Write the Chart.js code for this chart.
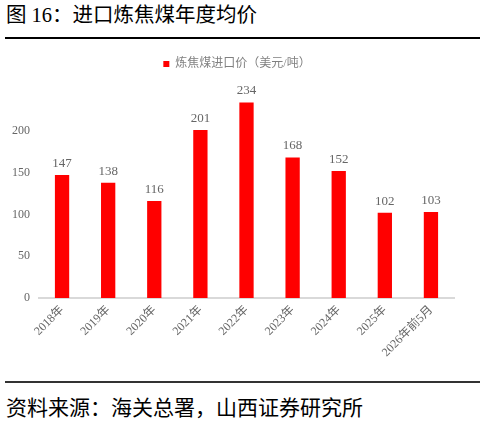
<!DOCTYPE html>
<html>
<head>
<meta charset="utf-8">
<script src="https://cdn.jsdelivr.net/npm/chart.js@4"></script>
<style>
  html, body { margin: 0; padding: 0; background: #fff; }
  body { width: 485px; height: 423px; position: relative; overflow: hidden; }
  .title { position: absolute; left: 6px; top: 2px; font: 20.5px "Liberation Serif", "Noto Sans CJK SC"; color: #000; white-space: nowrap; line-height: 26px; }
  .rule { position: absolute; left: 5px; width: 475px; }
  .rule.top { top: 37px; height: 2px; background: #000; }
  .rule.bottom { top: 381px; height: 1.5px; background: #333; }
  .source { position: absolute; left: 6px; top: 393px; font: 21px "Noto Sans CJK SC"; color: #000; white-space: nowrap; line-height: 26px; }
  #wrap { position: absolute; left: 0; top: 46px; width: 485px; height: 334px; }
</style>
</head>
<body>
<div class="title">图 16：进口炼焦煤年度均价</div>
<div class="rule top"></div>
<div id="wrap"><canvas id="chart"></canvas></div>
<div class="rule bottom"></div>
<div class="source">资料来源：海关总署，山西证券研究所</div>
<script>
const years = ['2018年', '2019年', '2020年', '2021年', '2022年', '2023年', '2024年', '2025年', '2026年前5月'];
const prices = [147, 138, 116, 201, 234, 168, 152, 102, 103];
const seriesName = '炼焦煤进口价（美元/吨）';

const serif = '"Liberation Serif", "Noto Sans CJK SC"';

// value labels above each bar
const valueLabels = {
    id: 'valueLabels',
    afterDatasetsDraw(chart) {
        const ctx = chart.ctx;
        const meta = chart.getDatasetMeta(0);
        ctx.save();
        ctx.font = '13px ' + serif;
        ctx.fillStyle = '#666666';
        ctx.textAlign = 'center';
        ctx.textBaseline = 'bottom';
        meta.data.forEach((bar, i) => {
            ctx.fillText(String(prices[i]), bar.x, bar.y - 5);
        });
        ctx.restore();
    }
};

// legend: extra gap below it, and centred over the plot rather than the canvas
const legendTweak = {
    id: 'legendTweak',
    afterInit(chart) {
        const lg = chart.legend;
        if (!lg) return;
        const fit = lg.fit;
        lg.fit = function () { fit.call(this); this.height += 9; };
    },
    afterLayout(chart) {
        if (chart.legend) chart.legend.left += 20;
    }
};

new Chart(document.getElementById('chart'), {
    type: 'bar',
    data: {
        labels: years,
        datasets: [{
            label: seriesName,
            data: prices,
            backgroundColor: '#FF0000',
            barPercentage: 1,
            categoryPercentage: 0.31
        }]
    },
    options: {
        responsive: true,
        maintainAspectRatio: false,
        animation: false,
        layout: { padding: { top: 2, right: 31, bottom: 0, left: 0 } },
        plugins: {
            legend: {
                position: 'top',
                labels: {
                    boxWidth: 6,
                    boxHeight: 6,
                    padding: 10,
                    color: '#808080',
                    font: { family: serif, size: 12 }
                }
            },
            tooltip: { enabled: false }
        },
        scales: {
            x: {
                grid: { display: false, drawTicks: false },
                border: { color: '#D9D9D9', width: 2 },
                ticks: {
                    color: '#666666',
                    font: { family: serif, size: 12 },
                    minRotation: 45,
                    maxRotation: 45,
                    padding: 5
                },
                afterFit(scale) { scale.height = 82; }
            },
            y: {
                min: 0,
                max: 250,
                grid: { display: false, drawTicks: false },
                border: { display: false },
                ticks: {
                    stepSize: 50,
                    color: '#666666',
                    padding: 9,
                    font: { family: serif, size: 12 },
                    callback: v => (v === 250 ? '' : v)
                },
                afterFit(scale) { scale.width = 39; }
            }
        }
    },
    plugins: [valueLabels, legendTweak]
});
</script>
</body>
</html>
